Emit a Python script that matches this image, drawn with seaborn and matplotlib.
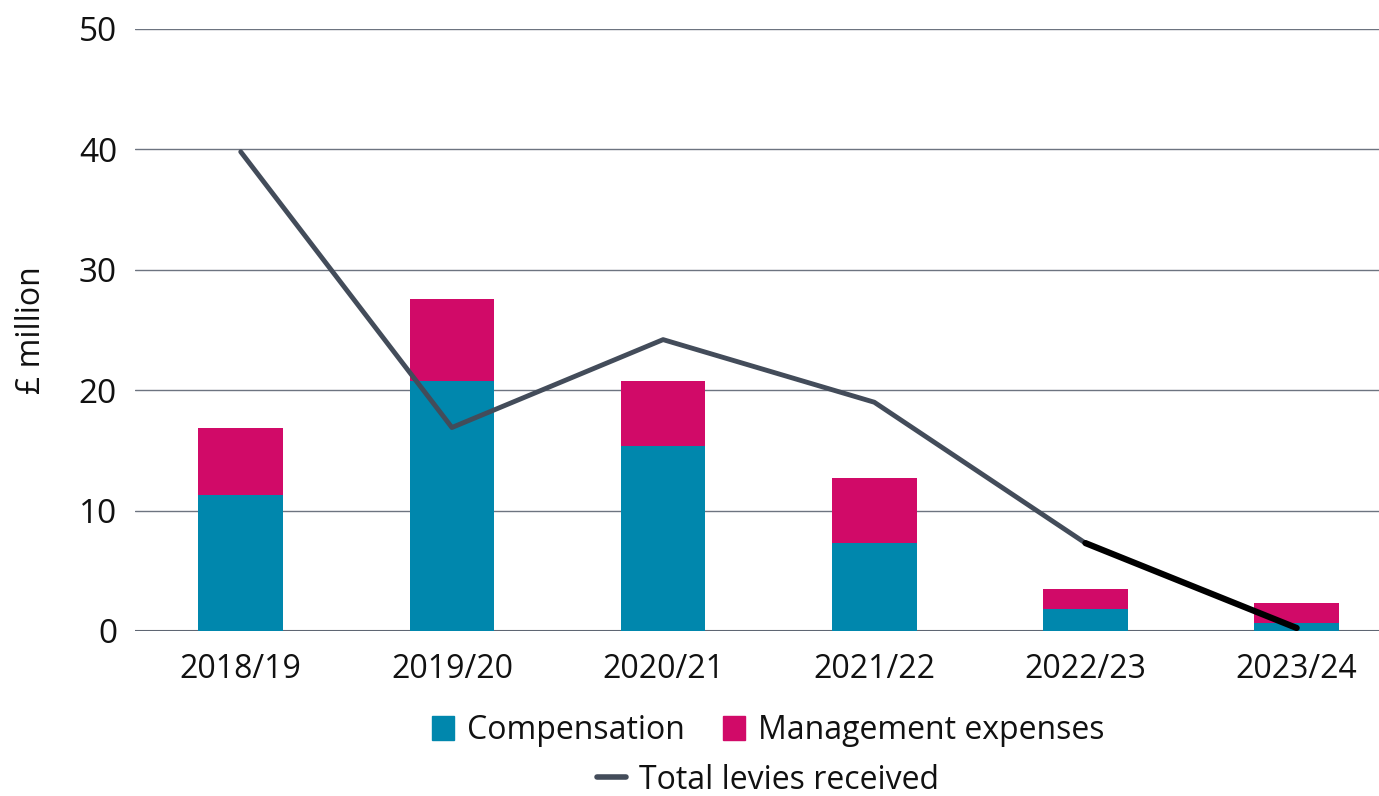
import numpy as np
import pandas as pd
import matplotlib
matplotlib.use("Agg")
import matplotlib.pyplot as plt
import seaborn as sns
from matplotlib.patches import Patch
from matplotlib.lines import Line2D

years = ['2018/19', '2019/20', '2020/21', '2021/22', '2022/23', '2023/24']
compensation = [11.3, 20.8, 15.4, 7.3, 1.8, 0.7]
management = [5.6, 6.8, 5.4, 5.4, 1.7, 1.6]
levies = [39.8, 16.9, 24.2, 19.0, 7.3, 0.25]

teal = '#0087ad'
magenta = '#d10a68'
slate = '#434c5a'

sns.set_style('white')
plt.rcParams['font.family'] = ['Open Sans', 'DejaVu Sans']
plt.rcParams['text.color'] = '#111111'

df = pd.DataFrame({'year': years, 'comp': compensation,
                   'total': np.array(compensation) + np.array(management)})

fig = plt.figure(figsize=(13.79, 7.96), dpi=100)
ax = fig.add_axes([0.098, 0.2073, 0.902, 0.7563])

# stacked bars: total (magenta) behind, compensation (teal) in front
sns.barplot(data=df, x='year', y='total', color=magenta, width=0.4,
            saturation=1, linewidth=0, ax=ax, zorder=2)
sns.barplot(data=df, x='year', y='comp', color=teal, width=0.4,
            saturation=1, linewidth=0, ax=ax, zorder=3)

xs = np.arange(len(years))
sns.lineplot(x=xs[:-1], y=levies[:-1], color=slate, linewidth=3.5,
             sort=False, ax=ax, zorder=4)
sns.lineplot(x=xs[-2:], y=levies[-2:], color='black', linewidth=4.5,
             sort=False, ax=ax, zorder=5, solid_capstyle='round')

ax.set_ylim(0, 50)
ax.set_xlim(-0.5, 5.39)
ax.set_yticks([0, 10, 20, 30, 40, 50])
ax.yaxis.grid(True, color='#6d7480', linewidth=1)
ax.set_axisbelow(True)
for s in ['top', 'right', 'left', 'bottom']:
    ax.spines[s].set_visible(False)
ax.axhline(0, color='#5f6673', linewidth=1.5, zorder=1)
ax.tick_params(axis='both', length=0, colors='#111111')
ax.tick_params(axis='y', pad=13, labelsize=24)
ax.tick_params(axis='x', pad=16, labelsize=23)
ax.set_xlabel('')
ax.set_ylabel('£ million', fontsize=23, labelpad=22, color='#111111')

h1 = [Patch(color=teal), Patch(color=magenta)]
fig.legend(h1, ['Compensation', 'Management expenses'], loc='center',
           bbox_to_anchor=(0.557, 0.082), ncol=2, frameon=False,
           fontsize=23, handlelength=0.7, handleheight=0.8,
           handletextpad=0.4, columnspacing=1.2)
h2 = [Line2D([0], [0], color=slate, linewidth=4)]
fig.legend(h2, ['Total levies received'], loc='center',
           bbox_to_anchor=(0.557, 0.02), frameon=False, fontsize=23,
           handlelength=0.9, handletextpad=0.4)

fig.savefig('out.png', dpi=100)
